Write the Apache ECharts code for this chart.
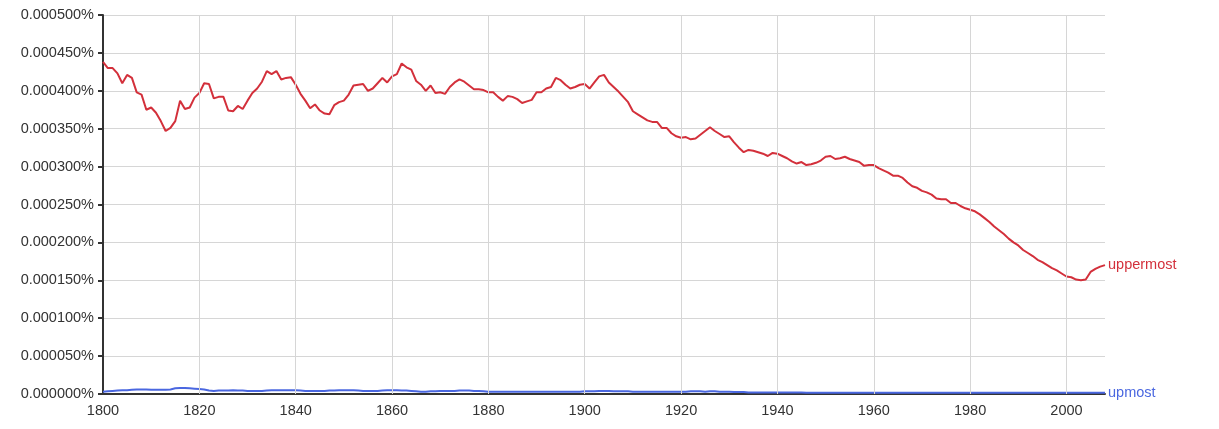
<!DOCTYPE html>
<html>
<head>
<meta charset="utf-8">
<script src="https://cdn.jsdelivr.net/npm/echarts@6/dist/echarts.min.js"></script>
<style>
html,body{margin:0;padding:0;background:#fff;}
#chart{width:1219px;height:429px;}
</style>
</head>
<body>
<div id="chart"></div>
<script>
// Years 1800..2008
const startYear = 1800;
const endYear = 2008;
const years = [];
for (let y = startYear; y <= endYear; y++) years.push(y);

// Values in millionths of a percent (1 = 0.000001%)
const uppermost = [
438,430,430,423,410,421,417,398,395,375,
378,371,360,347,351,360,387,376,378,391,
397,410,409,390,392,392,374,373,380,376,
387,397,403,412,426,422,426,415,417,418,
408,396,387,377,382,374,370,369,381,385,
387,395,407,408,409,400,403,410,417,411,
419,422,436,431,428,413,408,400,407,397,
398,396,405,411,415,412,407,402,402,401,
398,398,392,387,393,392,389,384,386,388,
398,398,403,405,417,414,408,403,405,408,
409,403,411,419,421,411,405,399,392,385,
373,369,365,361,359,359,351,351,344,340,
338,339,336,337,342,347,352,347,343,339,
340,332,325,319,322,321,319,317,314,318,
317,314,311,307,304,306,302,303,305,308,
313,314,310,311,313,310,308,306,301,302,
302,298,295,292,288,288,285,279,274,272,
268,266,263,258,257,257,252,252,248,245,
243,241,237,232,227,221,216,211,205,200,
196,190,186,182,177,174,170,166,163,159,
155,154,151,150,151,161,165,168,170
];

const upmost = [
3,3.5,4,4.5,5,5,5.5,6,6,6,
5.5,5.5,5.5,5.5,6,7.5,8,8,7.5,7,
6.5,6,4.5,4,4.5,4.5,4.5,5,4.5,4.5,
4,4,4,4,4.5,5,5,5,5,5,
5,4.5,4,4,4,4,4,4.5,4.5,5,
5,5,5,4.5,4,4,4,4,4.5,5,
5,5,4.5,4.5,4,3.5,3,3,3.5,3.5,
4,4,4,4,4.5,4.5,4.5,4,4,3.5,
3,3,3,3,3,3,3,3,3,3,
3,3,3,3,3,3,3,3,3,3,
3.5,3.5,3.5,4,4,4,3.5,3.5,3.5,3.5,
3,3,3,3,3,3,3,3,3,3,
3,3,3.5,3.5,3.5,3,3.5,3.5,3,3,
3,2.5,2.5,2.5,2,2,2,2,2,2,
2,2,2,2,2,2,1.5,1.5,1.5,1.5,
1.5,1.5,1.5,1.5,1.5,1.5,1.5,1.5,1.5,1.5,
1.5,1.5,1.5,1.5,1.5,1.5,1.5,1.5,1.5,1.5,
1.5,1.5,1.5,1.5,1.5,1.5,1.5,1.5,1.5,1.5,
1.5,1.5,1.5,1.5,1.5,1.5,1.5,1.5,1.5,1.5,
1.5,1.5,1.5,1.5,1.5,1.5,1.5,1.5,1.5,1.5,
1.5,1.5,1.5,1.5,1.5,1.5,1.5,1.5,1.5
];

const seriesNames = ['uppermost', 'upmost'];
const xGridYears = [1820, 1840, 1860, 1880, 1900, 1920, 1940, 1960, 1980, 2000];

const fontFamily = 'Helvetica, Arial, "Liberation Sans", sans-serif';
const gridColor = '#d6d6d6';
const redColor = '#d3303b';
const blueColor = '#4a67e0';

const chart = echarts.init(document.getElementById('chart'));
chart.setOption({
  animation: false,
  backgroundColor: '#fff',
  grid: { left: 103, right: 114, top: 15, bottom: 35, containLabel: false },
  xAxis: {
    type: 'value',
    min: startYear,
    max: endYear,
    interval: 20,
    axisLine: { show: true, onZero: false, lineStyle: { color: '#333', width: 2 } },
    axisTick: { show: false },
    splitLine: { show: false },
    axisLabel: {
      color: '#333', fontSize: 14.5, fontFamily: fontFamily, margin: 9,
      showMaxLabel: false,
      formatter: v => (v % 20 === 0 ? String(v) : '')
    }
  },
  yAxis: {
    type: 'value',
    min: 0,
    max: 500,
    interval: 50,
    axisLine: { show: true, lineStyle: { color: '#333', width: 2 } },
    axisTick: { show: true, length: 5, lineStyle: { color: '#333', width: 2 } },
    splitLine: { show: true, lineStyle: { color: gridColor, width: 1 } },
    axisLabel: {
      color: '#333', fontSize: 14.5, fontFamily: fontFamily, margin: 9,
      formatter: v => (v * 1e-6).toFixed(6) + '%'
    }
  },
  series: [
    {
      name: seriesNames[0],
      type: 'line',
      showSymbol: false,
      symbol: 'none',
      data: years.map((y, i) => [y, uppermost[i]]),
      lineStyle: { color: redColor, width: 2 },
      itemStyle: { color: redColor },
      endLabel: {
        show: true, formatter: seriesNames[0], color: redColor,
        fontSize: 14.5, fontFamily: fontFamily, distance: 3
      },
      markLine: {
        silent: true,
        symbol: ['none', 'none'],
        label: { show: false },
        lineStyle: { color: gridColor, type: 'solid', width: 1 },
        data: xGridYears.map(y => ({ xAxis: y }))
      },
      z: 3
    },
    {
      name: seriesNames[1],
      type: 'line',
      showSymbol: false,
      symbol: 'none',
      data: years.map((y, i) => [y, upmost[i]]),
      lineStyle: { color: blueColor, width: 2 },
      itemStyle: { color: blueColor },
      endLabel: {
        show: true, formatter: seriesNames[1], color: blueColor,
        fontSize: 14.5, fontFamily: fontFamily, distance: 3
      },
      z: 3
    }
  ]
});
</script>
</body>
</html>
